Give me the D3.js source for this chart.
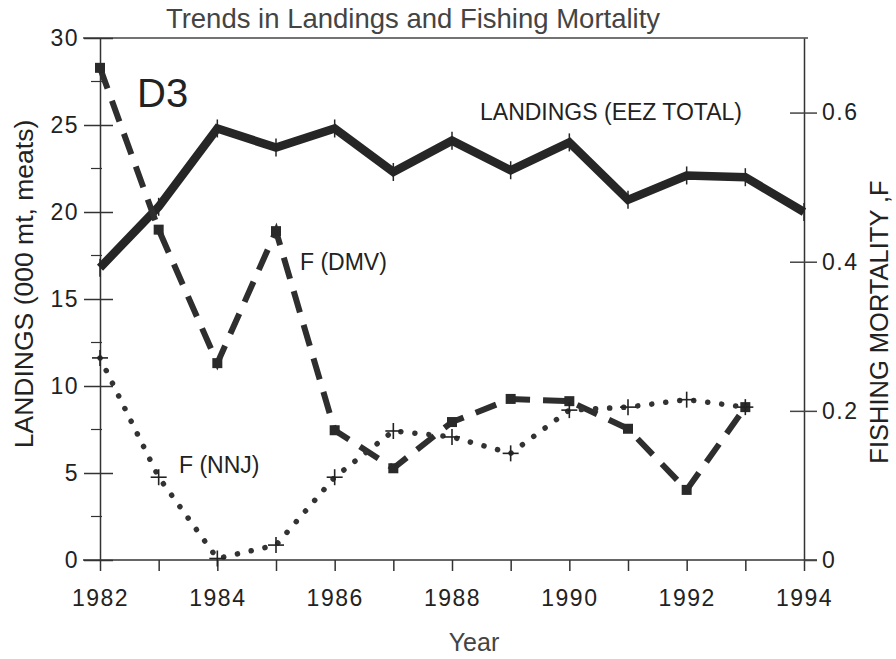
<html>
  <head>
    <meta charset="UTF-8">
    <script src="https://d3js.org/d3.v7.min.js"></script>
    <style>
      body {
        margin: 0;
        background: #fff;
        font-family: "Liberation Sans", Arial, Helvetica, sans-serif;
      }

      text {
        fill: #222;
      }

      .num {
        font-size: 23px;
        letter-spacing: 1.5px;
      }
    </style>
  </head>
  <body>
    <svg width="896" height="659"></svg>
    <script>
      // values
      const years = [1982, 1983, 1984, 1985, 1986, 1987, 1988, 1989, 1990, 1991, 1992, 1993, 1994];
      const landings = [16.8, 20.3, 24.8, 23.7, 24.8, 22.3, 24.1, 22.4, 24.0, 20.7, 22.1, 22.0, 20.0];
      const fYears = [1982, 1983, 1984, 1985, 1986, 1987, 1988, 1989, 1990, 1991, 1992, 1993];
      const fDMV = [0.660, 0.443, 0.264, 0.441, 0.174, 0.123, 0.185, 0.216, 0.213, 0.176, 0.094, 0.205];
      const fNNJ = [0.271, 0.111, 0.002, 0.020, 0.111, 0.173, 0.165, 0.143, 0.201, 0.205, 0.215, 0.205];
      const leftTicks = [0, 5, 10, 15, 20, 25, 30];
      const leftMinor = [2.5, 7.5, 12.5, 17.5, 22.5, 27.5];
      const rightTicks = [0, 0.2, 0.4, 0.6];
      const yearLabels = [1982, 1984, 1986, 1988, 1990, 1992, 1994];

      const svg = d3.select("svg");

      const x = d3.scaleLinear().domain([1982, 1994]).range([100, 804]);
      const y = d3.scaleLinear().domain([0, 30]).range([560, 38]);
      const yF = d3.scaleLinear().domain([0, 0.7]).range([560, 38]);

      // frame: top border and bottom line
      svg.append("line")
        .attr("x1", 83).attr("x2", 808)
        .attr("y1", y(30)).attr("y2", y(30))
        .attr("stroke", "#444").attr("stroke-width", 1.5);

      // bottom axis
      const xAxis = svg.append("g")
        .attr("transform", `translate(0, ${y(0)})`)
        .call(d3.axisBottom(x)
          .tickValues(years)
          .tickSize(11)
          .tickSizeOuter(0)
          .tickFormat((d) => yearLabels.includes(d) ? d : ""));
      xAxis.select(".domain").remove();
      xAxis.selectAll(".tick line").attr("stroke", "#333").attr("stroke-width", 1.5);
      xAxis.selectAll(".tick text")
        .attr("class", "num")
        .attr("y", 30)
        .attr("font-family", null)
        .attr("font-size", null);
      svg.append("line")
        .attr("x1", 83).attr("x2", 817)
        .attr("y1", y(0)).attr("y2", y(0))
        .attr("stroke", "#333").attr("stroke-width", 1.5);

      // left axis
      const yAxis = svg.append("g")
        .attr("transform", `translate(${x(1982)}, 0)`)
        .call(d3.axisLeft(y).tickValues(leftTicks).tickSize(0));
      yAxis.select(".domain").attr("stroke", "#333").attr("stroke-width", 1.5);
      yAxis.selectAll(".tick line")
        .attr("x1", -16).attr("x2", 13)
        .attr("stroke", "#333").attr("stroke-width", 1.5);
      yAxis.selectAll(".tick text")
        .attr("class", "num")
        .attr("x", -21)
        .attr("font-family", null)
        .attr("font-size", null);
      yAxis.selectAll("line.minor")
        .data(leftMinor)
        .join("line")
        .attr("class", "minor")
        .attr("x1", -9).attr("x2", 2)
        .attr("y1", (d) => y(d)).attr("y2", (d) => y(d))
        .attr("stroke", "#333").attr("stroke-width", 1.2);

      // right axis
      const fAxis = svg.append("g")
        .attr("transform", `translate(${x(1994)}, 0)`)
        .call(d3.axisRight(yF).tickValues(rightTicks).tickSize(0).tickFormat((d) => d === 0 ? "0" : d3.format(".1f")(d)));
      fAxis.select(".domain").attr("stroke", "#333").attr("stroke-width", 1.5);
      fAxis.selectAll(".tick line")
        .attr("x1", (d) => d === 0 ? 0 : -14).attr("x2", 13)
        .attr("stroke", "#444").attr("stroke-width", 1.5);
      fAxis.selectAll(".tick text")
        .attr("class", "num")
        .attr("x", 18)
        .attr("font-family", null)
        .attr("font-size", null);

      // landings (EEZ total)
      const landLine = d3.line().x((d, i) => x(years[i])).y((d) => y(d));
      svg.append("path")
        .datum(landings)
        .attr("fill", "none")
        .attr("stroke", "#262626")
        .attr("stroke-width", 8.5)
        .attr("stroke-linejoin", "miter")
        .attr("d", landLine);
      svg.selectAll("line.land-tick")
        .data(landings)
        .join("line")
        .attr("class", "land-tick")
        .attr("x1", (d, i) => x(years[i])).attr("x2", (d, i) => x(years[i]))
        .attr("y1", (d) => y(d) - 9).attr("y2", (d) => y(d) + 9)
        .attr("stroke", "#262626").attr("stroke-width", 1.5);

      // F (DMV), dashed with squares
      const fLine = d3.line().x((d, i) => x(fYears[i])).y((d) => yF(d));
      svg.append("path")
        .datum(fDMV)
        .attr("fill", "none")
        .attr("stroke", "#2e2e2e")
        .attr("stroke-width", 6)
        .attr("stroke-dasharray", "22 13")
        .attr("d", fLine);
      svg.selectAll("rect.dmv")
        .data(fDMV)
        .join("rect")
        .attr("class", "dmv")
        .attr("x", (d, i) => x(fYears[i]) - 5)
        .attr("y", (d) => yF(d) - 5)
        .attr("width", 10).attr("height", 10)
        .attr("fill", "#2a2a2a");

      // F (NNJ), dotted with crosses
      svg.append("path")
        .datum(fNNJ)
        .attr("fill", "none")
        .attr("stroke", "#333")
        .attr("stroke-width", 5.5)
        .attr("stroke-linecap", "round")
        .attr("stroke-dasharray", "0.1 14")
        .attr("d", fLine);
      const cross = svg.selectAll("g.nnj")
        .data(fNNJ)
        .join("g")
        .attr("class", "nnj")
        .attr("transform", (d, i) => `translate(${x(fYears[i])}, ${yF(d)})`)
        .attr("stroke", "#222")
        .attr("stroke-width", 1.6);
      cross.append("line").attr("x1", -8).attr("x2", 8);
      cross.append("line").attr("y1", -8).attr("y2", 8);

      // titles and labels
      svg.append("text")
        .attr("x", 413).attr("y", 28)
        .attr("text-anchor", "middle")
        .style("font-size", "27.5px")
        .style("fill", "#444")
        .text("Trends in Landings and Fishing Mortality");

      svg.append("text")
        .attr("x", 137).attr("y", 107)
        .style("font-size", "40px")
        .text("D3");

      svg.append("text")
        .attr("x", 480).attr("y", 120)
        .style("font-size", "23px")
        .text("LANDINGS (EEZ TOTAL)");

      svg.append("text")
        .attr("x", 300).attr("y", 270)
        .style("font-size", "23px")
        .text("F (DMV)");

      svg.append("text")
        .attr("x", 179).attr("y", 473)
        .style("font-size", "23px")
        .text("F (NNJ)");

      svg.append("text")
        .attr("transform", "translate(33, 284) rotate(-90)")
        .attr("text-anchor", "middle")
        .style("font-size", "26.5px")
        .text("LANDINGS (000 mt, meats)");

      svg.append("text")
        .attr("transform", "translate(888, 322) rotate(-90)")
        .attr("text-anchor", "middle")
        .style("font-size", "25.5px")
        .text("FISHING MORTALITY  ,F");

      svg.append("text")
        .attr("x", 474).attr("y", 651)
        .attr("text-anchor", "middle")
        .style("font-size", "25px")
        .style("fill", "#444")
        .text("Year");
    </script>
  </body>
</html>
